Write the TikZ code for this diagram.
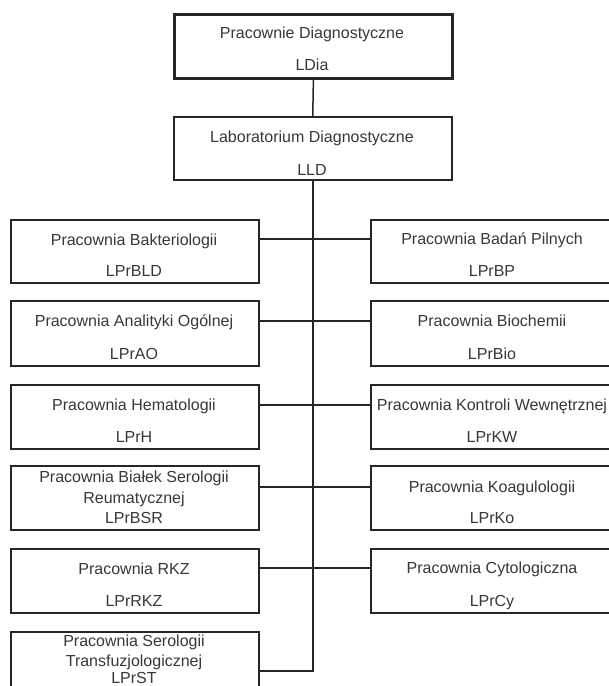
\documentclass[tikz,border=0pt]{standalone}
\usepackage{fontspec}
\setmainfont{Liberation Sans}
\begin{document}
\begin{tikzpicture}[x=1pt,y=-1pt,
  box/.style={draw=black!85, line width=1.5pt, minimum width=248pt, minimum height=64pt, inner sep=0pt, anchor=north west},
  rbox/.style={box, minimum width=246pt},
  txt/.style={font=\fontsize{16}{19}\selectfont, text=black!78, inner sep=0pt, text height=11.4pt, text depth=0pt},
  line/.style={draw=black!85, line width=1.5pt}]
\useasboundingbox (0,0) rectangle (609,686);
\fill[white] (0,0) rectangle (609,686);
\begin{scope}
\clip (0,0) rectangle (609,686);
% top
\node[box, line width=2.8pt, minimum width=278pt, minimum height=64pt] (PD) at (173,13) {};
\node[txt] (PDa) at (312,33) {Pracownie Diagnostyczne};
\node[txt] (PDb) at (312,65) {LDia};
\node[box, minimum width=278pt, minimum height=63pt] (LLD) at (173,116) {};
\node[txt] (LLDa) at (312,137) {Laboratorium Diagnostyczne};
\node[txt] (LLDb) at (312,170) {LLD};
% left column
\node[box, minimum height=63pt] (L1) at (10,219) {};
\node[txt] (L1a) at (134,240) {Pracownia Bakteriologii};
\node[txt] (L1b) at (134,271) {LPrBLD};
\node[box, minimum height=65pt] (L2) at (10,300) {};
\node[txt] (L2a) at (134,321) {Pracownia Analityki Ogólnej};
\node[txt] (L2b) at (134,354) {LPrAO};
\node[box] (L3) at (10,384) {};
\node[txt] (L3a) at (134,405) {Pracownia Hematologii};
\node[txt] (L3b) at (134,437) {LPrH};
\node[box] (L4) at (10,465) {};
\node[txt] (L4a) at (134,477) {Pracownia Białek Serologii};
\node[txt] (L4b) at (134,498) {Reumatycznej};
\node[txt] (L4c) at (134,518) {LPrBSR};
\node[box, minimum height=80pt] (L6) at (10,631) {};
\node[txt] (L6a) at (134,641) {Pracownia Serologii};
\node[txt] (L6b) at (134,661) {Transfuzjologicznej};
\node[txt] (L6c) at (134,678) {LPrST};
\node[box] (L5) at (10,548) {};
\node[txt] (L5a) at (134,569) {Pracownia RKZ};
\node[txt] (L5b) at (134,601) {LPrRKZ};
% right column
\node[rbox, minimum height=63pt] (R1) at (370,219) {};
\node[txt] (R1a) at (492,239) {Pracownia Badań Pilnych};
\node[txt] (R1b) at (492,271) {LPrBP};
\node[rbox, minimum height=65pt] (R2) at (370,300) {};
\node[txt] (R2a) at (492,321) {Pracownia Biochemii};
\node[txt] (R2b) at (492,354) {LPrBio};
\node[rbox] (R3) at (370,384) {};
\node[txt] (R3a) at (492,405) {Pracownia Kontroli Wewnętrznej};
\node[txt] (R3b) at (492,437) {LPrKW};
\node[rbox] (R4) at (370,465) {};
\node[txt] (R4a) at (492,487) {Pracownia Koagulologii};
\node[txt] (R4b) at (492,518) {LPrKo};
\node[rbox] (R5) at (370,548) {};
\node[txt] (R5a) at (492,568) {Pracownia Cytologiczna};
\node[txt] (R5b) at (492,601) {LPrCy};
% connectors
\coordinate (tend) at (313,671);
\draw[line] (PD.south) -- (LLD.north);
\draw[line] (LLD.south) -- (LLD.south |- tend) -- (L6.east |- tend);
\draw[line] (L1.east |- R1a) -- (R1.west |- R1a);
\draw[line] (L2.east |- R2a) -- (R2.west |- R2a);
\draw[line] (L3.east |- R3a) -- (R3.west |- R3a);
\draw[line] (L4.east |- R4a) -- (R4.west |- R4a);
\draw[line] (L5.east |- R5a) -- (R5.west |- R5a);
\end{scope}
\end{tikzpicture}
\end{document}
